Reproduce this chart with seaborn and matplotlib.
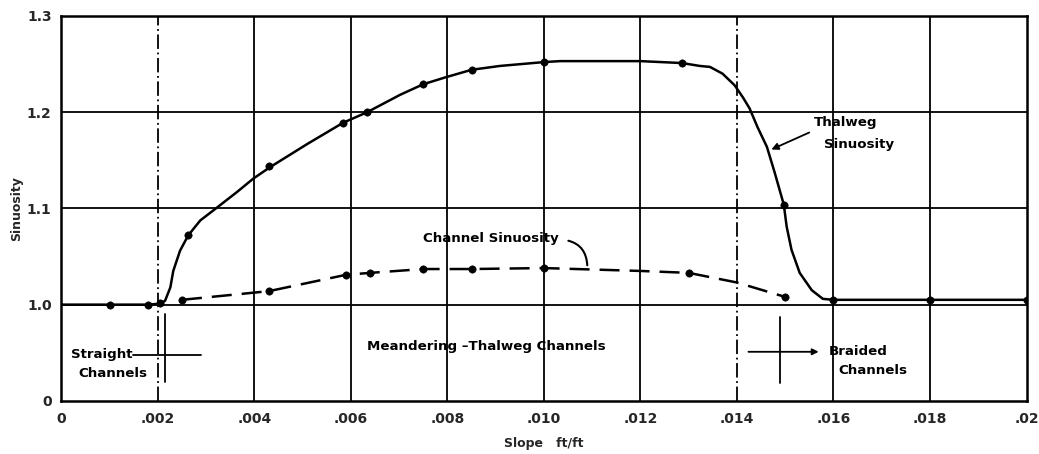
import numpy as np
import pandas as pd
import matplotlib
matplotlib.use("Agg")
import matplotlib.pyplot as plt
import seaborn as sns

# measured points (markers)
thal_x = [0.001, 0.0018, 0.00205, 0.00263, 0.0043, 0.00584, 0.00634, 0.0075, 0.0085, 0.0100, 0.01286, 0.01497, 0.016, 0.018, 0.020]
thal_y = [1.000, 1.000, 1.002, 1.072, 1.144, 1.189, 1.200, 1.229, 1.244, 1.252, 1.251, 1.104, 1.005, 1.005, 1.005]
chan_x = [0.0025, 0.0043, 0.0059, 0.0064, 0.0075, 0.0085, 0.0100, 0.0130, 0.0150]
chan_y = [1.005, 1.014, 1.031, 1.033, 1.037, 1.037, 1.038, 1.033, 1.008]

# hand-drawn curve traces
thal_curve_x = [0.0, 0.001, 0.0018, 0.00205, 0.00215, 0.00226, 0.00232, 0.00246, 0.00263, 0.00288, 0.00323,
                0.00364, 0.00398, 0.00433, 0.0051, 0.00584, 0.00634, 0.00702, 0.0075, 0.00795, 0.0085,
                0.00909, 0.0100, 0.01033, 0.0120, 0.01286, 0.01323, 0.01344, 0.0137, 0.01395, 0.01412,
                0.01426, 0.01443, 0.01462, 0.01478, 0.01497, 0.01503, 0.01513, 0.0153, 0.01555, 0.01578,
                0.016, 0.018, 0.020]
thal_curve_y = [1.000, 1.000, 1.000, 1.001, 1.004, 1.018, 1.035, 1.056, 1.072, 1.0875, 1.101,
                1.117, 1.131, 1.143, 1.167, 1.189, 1.200, 1.218, 1.229, 1.236, 1.244,
                1.248, 1.252, 1.253, 1.253, 1.251, 1.248, 1.247, 1.240, 1.228, 1.2156,
                1.204, 1.184, 1.164, 1.1375, 1.104, 1.081, 1.057, 1.033, 1.015, 1.006,
                1.005, 1.005, 1.005]
chan_curve_x = [0.0025, 0.0043, 0.0059, 0.0064, 0.0075, 0.0085, 0.0100, 0.0120, 0.0130, 0.0140, 0.0150]
chan_curve_y = [1.005, 1.014, 1.031, 1.033, 1.037, 1.037, 1.038, 1.035, 1.033, 1.023, 1.008]

x_ticks = [0, 0.002, 0.004, 0.006, 0.008, 0.010, 0.012, 0.014, 0.016, 0.018, 0.020]
x_labels = ["0", ".002", ".004", ".006", ".008", ".010", ".012", ".014", ".016", ".018", ".02"]
y_ticks = [0.9, 1.0, 1.1, 1.2, 1.3]
y_labels = ["0", "1.0", "1.1", "1.2", "1.3"]

sns.set_style("white")
plt.rcParams['font.family'] = ['DejaVu Sans']

fig, ax = plt.subplots(figsize=(10.39, 4.54), dpi=100)
fig.subplots_adjust(left=0.059, right=0.988, top=0.965, bottom=0.117)

# grid
for xv in x_ticks[1:-1]:
    ls = (0, (8, 2, 1, 2)) if xv in (0.002, 0.014) else "-"
    ax.axvline(xv, color="black", lw=1.3, ls=ls, zorder=1)
for yv in y_ticks[1:-1]:
    ax.axhline(yv, color="black", lw=1.3, zorder=1)

thal_line = pd.DataFrame({"x": thal_curve_x, "y": thal_curve_y})
chan_line = pd.DataFrame({"x": chan_curve_x, "y": chan_curve_y})
sns.lineplot(data=thal_line, x="x", y="y", ax=ax, color="black", lw=1.8, sort=False, zorder=3)
sns.lineplot(data=chan_line, x="x", y="y", ax=ax, color="black", lw=1.8, sort=False, zorder=3,
             dashes=False, linestyle=(0, (8, 4)))

pts = pd.concat([pd.DataFrame({"x": thal_x, "y": thal_y}), pd.DataFrame({"x": chan_x, "y": chan_y})])
sns.scatterplot(data=pts, x="x", y="y", ax=ax, color="black", s=28, edgecolor="black", zorder=4)

txt = dict(fontsize=9.6, fontweight="bold", color="black")

# annotations
ax.text(0.0075, 1.069, "Channel Sinuosity", ha="left", va="center", **txt)
ax.annotate("", xy=(0.0109, 1.038), xytext=(0.01045, 1.067),
            arrowprops=dict(arrowstyle="-", lw=1.5, color="black",
                            connectionstyle="angle3,angleA=-10,angleB=90"))
ax.text(0.01559, 1.189, "Thalweg", ha="left", va="center", **txt)
ax.text(0.0158, 1.166, "Sinuosity", ha="left", va="center", **txt)
ax.annotate("", xy=(0.01466, 1.160), xytext=(0.01555, 1.180),
            arrowprops=dict(arrowstyle="-|>", lw=1.3, color="black", mutation_scale=10))

ax.text(0.00634, 0.956, "Meandering \u2013Thalweg Channels", ha="left", va="center", **txt)

ax.text(0.0002, 0.948, "Straight", ha="left", va="center", **txt)
ax.text(0.00035, 0.928, "Channels", ha="left", va="center", **txt)
ax.plot([0.00148, 0.0029], [0.948, 0.948], color="black", lw=1.3, zorder=3)
ax.plot([0.00215, 0.00215], [0.92, 0.99], color="black", lw=1.3, zorder=3)

ax.text(0.0159, 0.951, "Braided", ha="left", va="center", **txt)
ax.text(0.0161, 0.932, "Channels", ha="left", va="center", **txt)
ax.annotate("", xy=(0.01575, 0.951), xytext=(0.01418, 0.951),
            arrowprops=dict(arrowstyle="-|>", lw=1.3, color="black", mutation_scale=9))
ax.plot([0.0149, 0.0149], [0.919, 0.987], color="black", lw=1.3, zorder=3)

ax.set_xlim(0, 0.020)
ax.set_ylim(0.9, 1.3)
ax.set_xticks(x_ticks)
ax.set_xticklabels(x_labels, fontsize=10, fontweight="bold")
ax.set_yticks(y_ticks)
ax.set_yticklabels(y_labels, fontsize=10, fontweight="bold")
ax.tick_params(axis="x", length=0, pad=8)
ax.tick_params(axis="y", length=0, pad=7)
ax.set_xlabel("Slope   ft/ft", fontsize=9, fontweight="bold", labelpad=8)
ax.set_ylabel("Sinuosity", fontsize=9, fontweight="bold", labelpad=3)

for s in ax.spines.values():
    s.set_color("black")
    s.set_linewidth(1.8)

fig.savefig("out.png", dpi=100)
